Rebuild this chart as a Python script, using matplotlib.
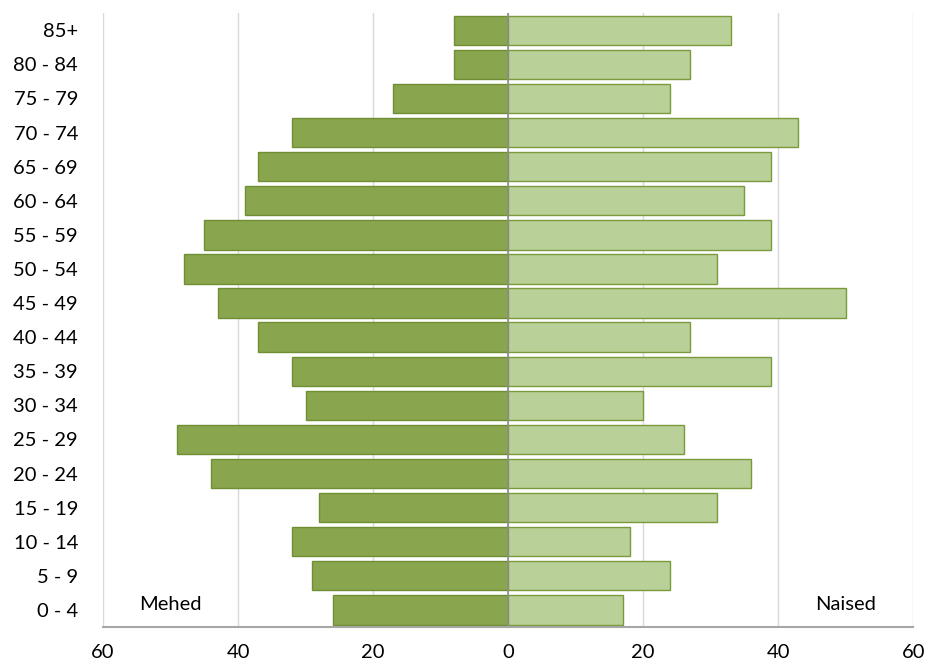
import matplotlib
matplotlib.use("Agg")
import matplotlib.pyplot as plt
import numpy as np

# vanuserühmad, alt üles
groups = ['0 - 4', '5 - 9', '10 - 14', '15 - 19', '20 - 24', '25 - 29', '30 - 34',
          '35 - 39', '40 - 44', '45 - 49', '50 - 54', '55 - 59', '60 - 64',
          '65 - 69', '70 - 74', '75 - 79', '80 - 84', '85+']
mehed = [26, 29, 32, 28, 44, 49, 30, 32, 37, 43, 48, 45, 39, 37, 32, 17, 8, 8]
naised = [17, 24, 18, 31, 36, 26, 20, 39, 27, 50, 31, 39, 35, 39, 43, 24, 27, 33]
xticks = [-60, -40, -20, 0, 20, 40, 60]

plt.rcParams['font.family'] = ['Lato', 'DejaVu Sans']

fig = plt.figure(figsize=(9.28, 6.66), dpi=100)
ax = fig.add_axes([0.111, 0.0586, 0.873, 0.9215])

y = np.arange(len(groups))
ax.barh(y, [-v for v in mehed], height=0.86, color='#89a54e', edgecolor='#6f8f32', linewidth=1)
ax.barh(y, naised, height=0.86, color='#b9d098', edgecolor='#7a9a3c', linewidth=1)

ax.set_xlim(-60, 60)
ax.set_ylim(-0.5, len(groups) - 0.5)
ax.set_yticks(y)
ax.set_yticklabels(groups, fontsize=14.5)
ax.set_xticks(xticks)
ax.set_xticklabels([str(abs(t)) for t in xticks], fontsize=14.5)
ax.tick_params(axis='both', length=0)
ax.tick_params(axis='x', pad=12)
ax.tick_params(axis='y', pad=18)

ax.grid(axis='x', color='#d9d9d9', linewidth=1)
ax.set_axisbelow(True)
ax.axvline(0, color='#8c8c8c', linewidth=1.2)

for s in ['top', 'right', 'left']:
    ax.spines[s].set_visible(False)
ax.spines['bottom'].set_color('#a6a6a6')
ax.spines['bottom'].set_linewidth(1.5)

ax.text(-50, 0.15, 'Mehed', fontsize=14.5, ha='center', va='center')
ax.text(50, 0.15, 'Naised', fontsize=14.5, ha='center', va='center')

plt.savefig('out.png', dpi=100)
